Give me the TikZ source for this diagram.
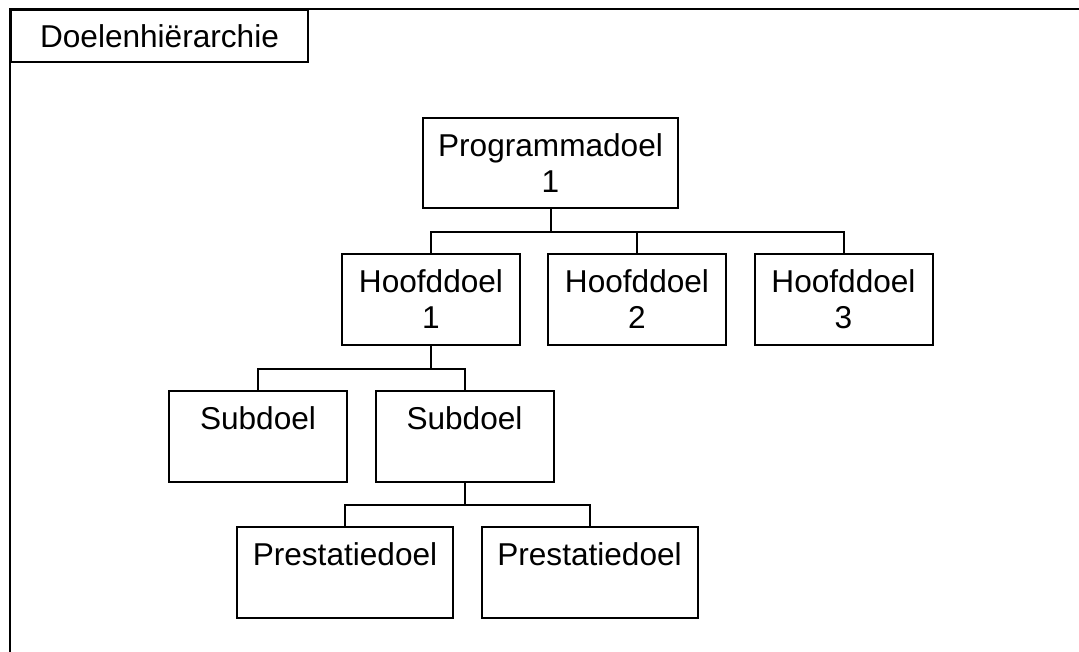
\documentclass[tikz,border=0pt]{standalone}
\usepackage{fontspec}
\setmainfont{Liberation Sans}
\begin{document}
\begin{tikzpicture}[x=0.75pt,y=-0.75pt,
  main node/.style={rectangle,draw,line width=1.5pt,inner sep=0pt,align=center,
    font=\fontsize{23.7}{27}\selectfont,minimum width=133.5pt,minimum height=68pt},
  wide node/.style={main node,minimum width=162pt},
  bus/.style={line width=1.5pt}]
  \useasboundingbox (0,0) rectangle (1079,652);

  % frame and title
  \draw[line width=2pt] (1100,9) -- (10,9) -- (10,670);
  \node[main node,minimum width=222.75pt,minimum height=39pt] (title) at (159.5,36) {Doelenhiërarchie};

  \node[main node,minimum width=191.25pt] (prog) at (550.5,163) {Programmadoel\\1};
  \node[main node] (h1) at (431,299.5) {Hoofddoel\\1};
  \node[main node] (h2) at (637,299.5) {Hoofddoel\\2};
  \node[main node] (h3) at (843.5,299.5) {Hoofddoel\\3};
  \node[main node] (s1) at (258,436.5) {Subdoel\\\mbox{}};
  \node[main node] (s2) at (464.5,436.5) {Subdoel\\\mbox{}};
  \node[wide node] (p1) at (345,572.5) {Prestatiedoel\\\mbox{}};
  \node[wide node] (p2) at (589.5,572.5) {Prestatiedoel\\\mbox{}};

  \draw[bus] (prog.south) -- ++(0,23) -| (h1.north);
  \draw[bus] (prog.south) -- ++(0,23) -| (h2.north);
  \draw[bus] (prog.south) -- ++(0,23) -| (h3.north);
  \draw[bus] (h1.south) -- ++(0,23) -| (s1.north);
  \draw[bus] (h1.south) -- ++(0,23) -| (s2.north);
  \draw[bus] (s2.south) -- ++(0,22) -| (p1.north);
  \draw[bus] (s2.south) -- ++(0,22) -| (p2.north);
\end{tikzpicture}
\end{document}
